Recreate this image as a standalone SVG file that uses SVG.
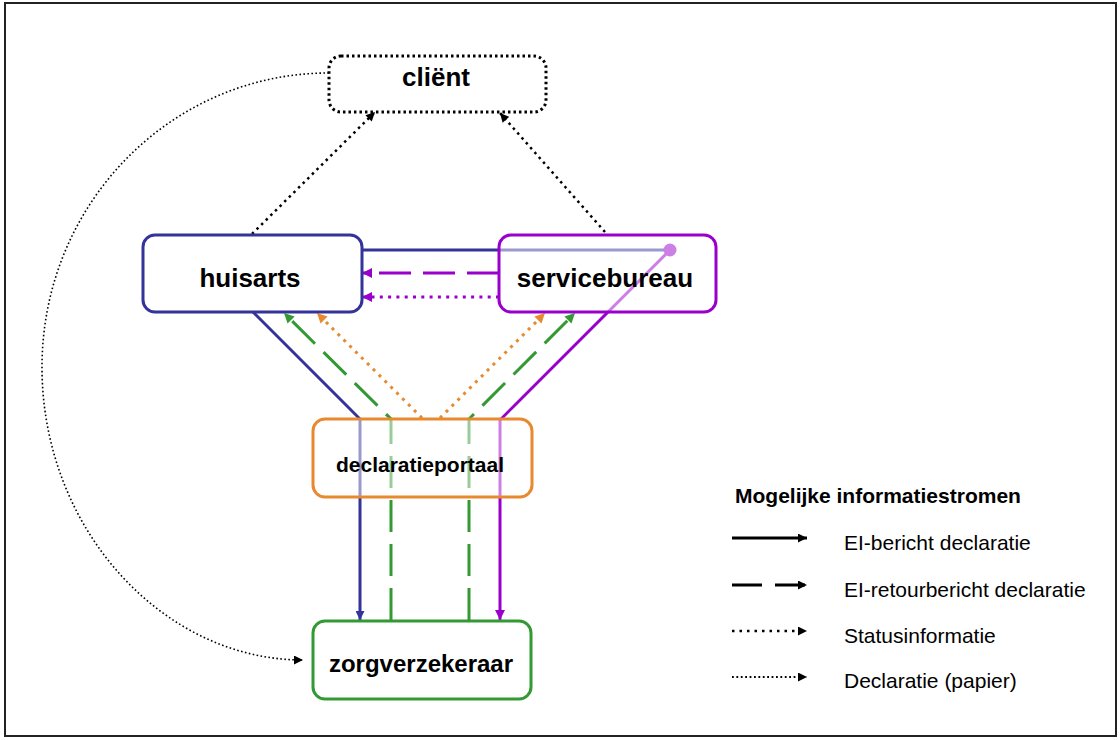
<svg xmlns="http://www.w3.org/2000/svg" width="1120" height="740" viewBox="0 0 1120 740">
<defs>
<style>
.box{fill:#ffffff;fill-opacity:0.5;stroke-width:3}
.lbl{font-family:"Liberation Sans",Arial,sans-serif;font-weight:bold;fill:#000;text-anchor:middle}
.leg{font-family:"Liberation Sans",Arial,sans-serif;font-size:21px;fill:#000}
.c{fill:none;stroke-width:3}
.blue{stroke:#333399}
.purple{stroke:#9900cc}
.green{stroke:#339933}
.orange{stroke:#e8892f}
.dash{stroke-dasharray:32 12}
.dot{stroke-dasharray:3 5.3}
</style>
<marker id="mb" viewBox="0 0 10 10" refX="10" refY="5" markerWidth="10" markerHeight="9" orient="auto" markerUnits="userSpaceOnUse"><path d="M0,0L10,5L0,10z" fill="#333399"/></marker>
<marker id="mp" viewBox="0 0 10 10" refX="10" refY="5" markerWidth="10" markerHeight="10" orient="auto" markerUnits="userSpaceOnUse"><path d="M0,0L10,5L0,10z" fill="#9900cc"/></marker>
<marker id="mg" viewBox="0 0 10 10" refX="10" refY="5" markerWidth="11" markerHeight="10" orient="auto" markerUnits="userSpaceOnUse"><path d="M0,0L10,5L0,10z" fill="#339933"/></marker>
<marker id="mo" viewBox="0 0 10 10" refX="10" refY="5" markerWidth="11" markerHeight="10" orient="auto" markerUnits="userSpaceOnUse"><path d="M0,0L10,5L0,10z" fill="#e8892f"/></marker>
<marker id="mk" viewBox="0 0 10 10" refX="10" refY="5" markerWidth="10" markerHeight="9" orient="auto" markerUnits="userSpaceOnUse"><path d="M0,0L10,5L0,10z" fill="#000"/></marker>
</defs>
<rect x="5" y="3" width="1111" height="733" fill="#fff" stroke="#222" stroke-width="2"/>
<g id="connectors">
<path d="M329,73 C170,73 42,205 42,367 C42,529 163,660 303,660" fill="none" stroke="#000" stroke-width="1.6" stroke-dasharray="1.6 2.4" marker-end="url(#mk)"/>
<line x1="252" y1="234" x2="375" y2="112" stroke="#000" stroke-width="2.5" stroke-dasharray="2.5 4" marker-end="url(#mk)"/>
<line x1="605" y1="232" x2="500" y2="113" stroke="#000" stroke-width="2.5" stroke-dasharray="2.5 4" marker-end="url(#mk)"/>
<line class="c blue" x1="362" y1="250" x2="670" y2="250"/>
<circle cx="670" cy="250" r="6.5" fill="#9900cc"/>
<polyline class="c purple" points="670,250 500,420 500,620" marker-end="url(#mp)"/>
<polyline class="c blue" points="253,312 360,419 360,620" marker-end="url(#mb)"/>
<polyline class="c green dash" points="391,620 391,419 284,313" marker-end="url(#mg)"/>
<polyline class="c green dash" points="469,620 469,419 575,313" marker-end="url(#mg)"/>
<line class="c orange dot" x1="422" y1="418" x2="317" y2="313" marker-end="url(#mo)"/>
<line class="c orange dot" x1="440" y1="418" x2="545" y2="313" marker-end="url(#mo)"/>
<line class="c purple dash" x1="499" y1="273" x2="362" y2="273" marker-end="url(#mp)"/>
<line class="c purple dot" x1="499" y1="297" x2="362" y2="297" marker-end="url(#mp)"/>
</g>
<g id="client">
<rect class="box" x="329" y="56" width="217" height="56" rx="12" stroke="#000" stroke-width="2.5" stroke-dasharray="2.5 3"/>
<text class="lbl" x="436" y="86" font-size="26">cliënt</text>
</g>
<g id="huisarts">
<rect class="box" x="143" y="235" width="219" height="77" rx="12" stroke="#333399"/>
<text class="lbl" x="250" y="287" font-size="26">huisarts</text>
</g>
<g id="servicebureau">
<rect class="box" x="499" y="235" width="217" height="77" rx="12" stroke="#9900cc"/>
<text class="lbl" x="605" y="287" font-size="26">servicebureau</text>
</g>
<g id="declaratieportaal">
<rect class="box" x="313" y="419" width="219" height="78" rx="12" stroke="#e8892f"/>
<text class="lbl" x="420" y="472" font-size="21">declaratieportaal</text>
</g>
<g id="zorgverzekeraar">
<rect class="box" x="313" y="621" width="218" height="78" rx="12" stroke="#339933"/>
<text class="lbl" x="421" y="672" font-size="24">zorgverzekeraar</text>
</g>
<g id="legend">
<text x="735" y="503" class="leg" font-weight="bold">Mogelijke informatiestromen</text>
<line x1="732" y1="538" x2="807" y2="538" stroke="#000" stroke-width="3" marker-end="url(#mk)"/>
<line x1="732" y1="585" x2="807" y2="585" stroke="#000" stroke-width="3" stroke-dasharray="30 13" marker-end="url(#mk)"/>
<line x1="732" y1="631" x2="807" y2="631" stroke="#000" stroke-width="2.5" stroke-dasharray="2.5 5" marker-end="url(#mk)"/>
<line x1="732" y1="677" x2="807" y2="677" stroke="#000" stroke-width="1.8" stroke-dasharray="1.8 2.6" marker-end="url(#mk)"/>
<text x="844" y="550" class="leg">EI-bericht declaratie</text>
<text x="844" y="597" class="leg">EI-retourbericht declaratie</text>
<text x="844" y="643" class="leg">Statusinformatie</text>
<text x="844" y="688" class="leg">Declaratie (papier)</text>
</g>
</svg>
